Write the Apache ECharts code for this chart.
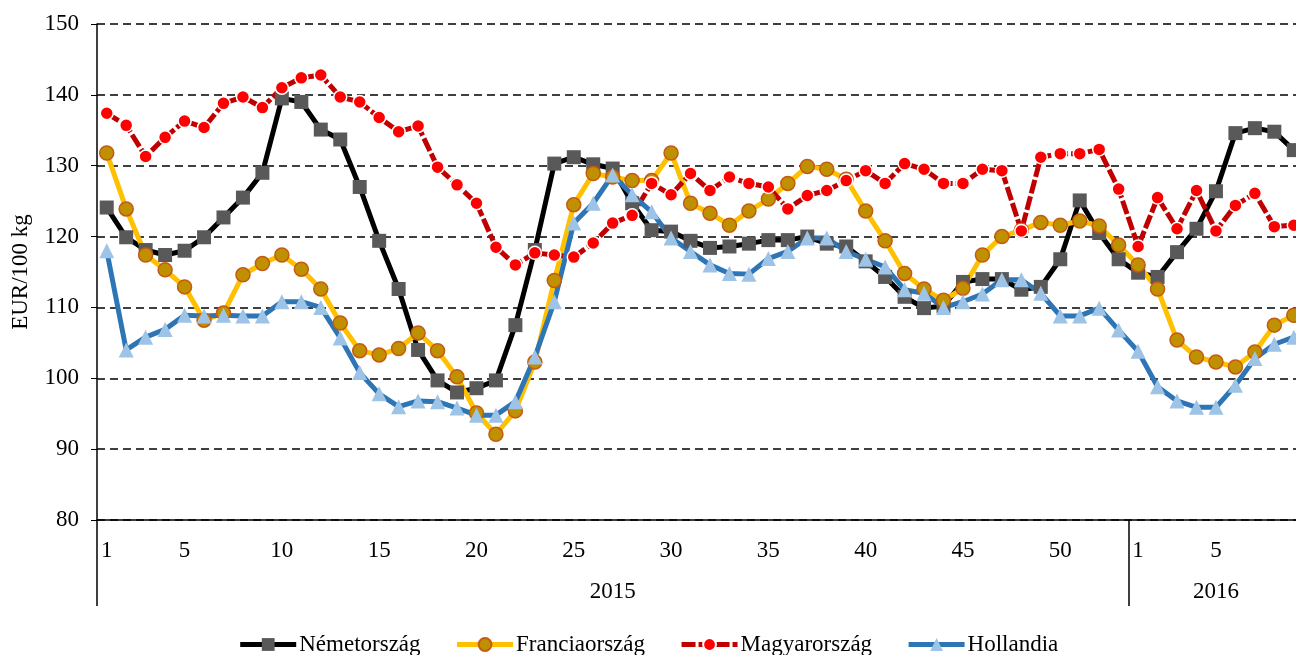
<!DOCTYPE html>
<html lang="hu">
<head>
<meta charset="UTF-8">
<title>EUR/100 kg</title>
<script src="https://cdn.jsdelivr.net/npm/echarts@6/dist/echarts.min.js"></script>
<style>
    html, body { margin: 0; padding: 0; background: #fff; }
    #main { width: 1296px; height: 655px; }
</style>
</head>
<body>
<div id="main"></div>
<script>
    // weeks: 2015 had 53 ISO weeks, 2016 shown up to week 9
    var years = ['2015', '2016'];
    var weeksPerYear = [53, 9];

    var nemet2015 = [124.1, 119.9, 118.1, 117.4, 118.0, 119.9, 122.7, 125.5, 129.0, 139.5,
        139.0, 135.1, 133.7, 127.0, 119.4, 112.6, 104.0, 99.7, 98.0, 98.6,
        99.7, 107.5, 118.1, 130.3, 131.2, 130.2, 129.6, 124.7, 120.9, 120.7,
        119.4, 118.4, 118.6, 119.0, 119.5, 119.5, 120.0, 119.0, 118.6, 116.5,
        114.3, 111.5, 109.9, 110.2, 113.6, 114.0, 114.0, 112.5, 112.9, 116.8,
        125.1, 120.5, 116.8];
    var nemet2016 = [114.9, 114.3, 117.8, 121.1, 126.4, 134.6, 135.3, 134.8, 132.2];

    var francia2015 = [131.8, 123.9, 117.4, 115.3, 112.9, 108.2, 109.2, 114.6, 116.2, 117.4,
        115.4, 112.6, 107.8, 103.9, 103.3, 104.2, 106.4, 103.9, 100.2, 95.1,
        92.1, 95.4, 102.3, 113.8, 124.5, 128.9, 128.4, 127.9, 127.9, 131.8,
        124.7, 123.3, 121.6, 123.6, 125.3, 127.5, 129.9, 129.5, 128.1, 123.6,
        119.4, 114.8, 112.6, 111.0, 112.7, 117.4, 120.0, 120.9, 122.0, 121.6,
        122.2, 121.5, 118.8];
    var francia2016 = [116.0, 112.6, 105.4, 103.0, 102.3, 101.6, 103.7, 107.5, 108.9];

    var magyar2015 = [137.4, 135.7, 131.3, 134.0, 136.3, 135.4, 138.8, 139.7, 138.2, 141.0,
        142.4, 142.8, 139.7, 139.0, 136.8, 134.8, 135.6, 129.8, 127.3, 124.7,
        118.5, 116.0, 117.7, 117.4, 117.1, 119.1, 121.9, 123.0, 127.5, 125.9,
        128.9, 126.5, 128.4, 127.5, 127.0, 123.9, 125.8, 126.5, 127.9, 129.3,
        127.5, 130.3, 129.5, 127.5, 127.5, 129.5, 129.3, 120.8, 131.2, 131.7,
        131.7, 132.3, 126.7];
    var magyar2016 = [118.6, 125.5, 121.1, 126.5, 120.8, 124.4, 126.1, 121.4, 121.6];

    var holland2015 = [118.0, 104.0, 105.8, 106.9, 108.9, 108.8, 108.9, 108.8, 108.8, 110.8,
        110.8, 110.0, 105.7, 100.8, 97.8, 96.0, 96.8, 96.7, 95.8, 94.8,
        94.8, 96.7, 103.0, 110.8, 121.9, 124.7, 128.7, 125.9, 123.5, 119.8,
        117.9, 116.0, 114.8, 114.7, 116.9, 117.9, 119.8, 119.8, 117.9, 116.8,
        115.7, 112.5, 112.0, 110.0, 110.8, 111.9, 113.9, 113.9, 112.0, 108.8,
        108.8, 109.9, 106.8];
    var holland2016 = [103.8, 98.8, 96.8, 95.9, 95.9, 99.0, 102.8, 104.8, 105.8];

    // category labels = week numbers
    var weeks = [];
    weeksPerYear.forEach(function (n) {
        for (var w = 1; w <= n; w++) weeks.push(String(w));
    });
    var total = weeks.length;

    // year boundaries and centres on a 0..total scale
    var yearEdges = [0], yearMids = [];
    var acc = 0;
    weeksPerYear.forEach(function (n) {
        yearMids.push(acc + n / 2);
        acc += n;
        yearEdges.push(acc);
    });

    var font = 'Liberation Serif, Times New Roman, serif';
    var chart = echarts.init(document.getElementById('main'));

    var option = {
        animation: false,
        backgroundColor: '#ffffff',
        textStyle: { fontFamily: font },
        grid: { left: 97, top: 24, width: total * 19.46, height: 496, outerBoundsMode: 'none', containLabel: false },
        legend: {
            left: 'center',
            top: 628,
            itemWidth: 56,
            itemHeight: 16,
            itemGap: 34,
            lineStyle: { width: 5 },
            textStyle: { fontFamily: font, fontSize: 23, color: '#000', padding: [0, 0, 0, -2] },
            data: ['Németország', 'Franciaország', 'Magyarország', 'Hollandia']
        },
        xAxis: [{
            type: 'category',
            data: weeks,
            boundaryGap: true,
            axisLine: { lineStyle: { color: '#000', width: 1.5 } },
            axisTick: { interval: 0, length: 7, lineStyle: { color: '#000', width: 1 } },
            axisLabel: {
                interval: function (i, v) { return v === '1' || Number(v) % 5 === 0; },
                margin: 19,
                fontFamily: font,
                fontSize: 23,
                color: '#000'
            },
            splitLine: { show: false }
        }, {
            type: 'value',
            position: 'bottom',
            min: 0,
            max: total,
            axisLine: { show: false },
            axisTick: {
                show: true,
                customValues: yearEdges,
                length: 86,
                lineStyle: { color: '#000', width: 1.5 }
            },
            axisLabel: {
                customValues: yearMids,
                margin: 60,
                fontFamily: font,
                fontSize: 23,
                color: '#000',
                formatter: function (v) { return years[yearMids.indexOf(v)] || ''; }
            },
            splitLine: { show: false }
        }],
        yAxis: {
            type: 'value',
            min: 80,
            max: 150,
            interval: 10,
            name: 'EUR/100 kg',
            nameLocation: 'middle',
            nameGap: 65,
            nameTextStyle: { fontFamily: font, fontSize: 23, color: '#000' },
            axisLine: { show: true, lineStyle: { color: '#000', width: 1.5 } },
            axisTick: { show: true, length: 6, lineStyle: { color: '#000' } },
            axisLabel: { margin: 18, fontFamily: font, fontSize: 23, color: '#000' },
            splitLine: { lineStyle: { color: '#000', type: [8, 5], width: 1.5 } }
        },
        series: [{
            name: 'Németország',
            type: 'line',
            data: nemet2015.concat(nemet2016),
            showAllSymbol: true,
            symbol: 'rect',
            symbolSize: 14,
            itemStyle: { color: '#595959' },
            lineStyle: { color: '#000', width: 5 }
        }, {
            name: 'Franciaország',
            type: 'line',
            data: francia2015.concat(francia2016),
            showAllSymbol: true,
            symbol: 'circle',
            symbolSize: 14,
            itemStyle: { color: '#BF9000', borderColor: '#C55A11', borderWidth: 1.5 },
            lineStyle: { color: '#FFC000', width: 5 }
        }, {
            name: 'Magyarország',
            type: 'line',
            data: magyar2015.concat(magyar2016),
            showAllSymbol: true,
            symbol: 'circle',
            symbolSize: 13,
            itemStyle: { color: '#FF0000', borderColor: '#ffffff', borderWidth: 1.5 },
            lineStyle: { color: '#C00000', width: 5, type: [14, 3] }
        }, {
            name: 'Hollandia',
            type: 'line',
            data: holland2015.concat(holland2016),
            showAllSymbol: true,
            symbol: 'triangle',
            symbolSize: 15,
            itemStyle: { color: '#9DC3E6' },
            lineStyle: { color: '#2E75B6', width: 5 }
        }]
    };

    chart.setOption(option);
</script>
</body>
</html>
